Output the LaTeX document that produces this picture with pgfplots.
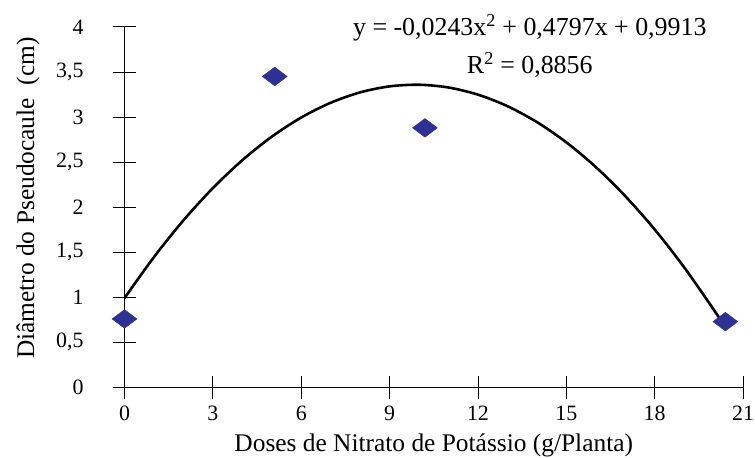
\documentclass[border=0pt]{standalone}
\usepackage{fontspec}
\setmainfont{Liberation Serif}
\usepackage{pgfplots}
\pgfplotsset{compat=1.18}
\definecolor{navy}{HTML}{2E3192}
\begin{document}
\fontsize{22}{26}\selectfont
\begin{tikzpicture}
\begin{axis}[
  scale only axis, width=621pt, height=362pt,
  xmin=0, xmax=21, ymin=0, ymax=4,
  axis lines*=left,
  axis line style={line width=0.8pt},
  tick style={line width=0.8pt, black},
  tick align=center, major tick length=24pt,
  xtick={0,3,...,21}, ytick={0,0.5,...,4},
  /pgf/number format/assume math mode=true,
  /pgf/number format/use comma,
  /pgf/number format/fixed,
  tick label style={font=\fontsize{22}{26}\selectfont, inner sep=1pt},
  yticklabel style={anchor=east, xshift=-28pt},
  xticklabel style={anchor=north, yshift=-5pt},
  xlabel={Doses de Nitrato de Potássio (g/Planta)},
  ylabel={Diâmetro do Pseudocaule\ \ (cm)},
  every axis x label/.style={at={(axis description cs:0.5,0)}, anchor=center, yshift=-58pt, inner sep=0pt, font=\fontsize{25.5}{30}\selectfont},
  every axis y label/.style={at={(axis description cs:-0.1562,0.525)}, anchor=center, rotate=90, font=\fontsize{25.5}{30}\selectfont},
  clip=false,
]
\addplot[black, line width=2.6pt, smooth] coordinates {
 (0,0.9913) (1,1.4467) (2,1.8535) (3,2.2117) (4,2.5213) (5,2.7823)
 (6,2.9947) (7,3.1585) (8,3.2737) (9,3.3403) (10,3.3583) (11,3.3277)
 (12,3.2485) (13,3.1207) (14,2.9443) (15,2.7193) (16,2.4457) (17,2.1235)
 (18,1.7527) (19,1.3333) (20,0.8653) (20.4,0.6645)
};
\addplot[only marks, mark=diamond*, mark size=12.5pt, mark options={rotate=90, fill=navy, draw=navy}] coordinates {
 (0,0.76) (5.1,3.45) (10.2,2.88) (20.4,0.73)
};
\node[anchor=center, font=\fontsize{26}{30}\selectfont] at (axis cs:13.76,3.99) {y = -0,0243x\textsuperscript{2} + 0,4797x + 0,9913};
\node[anchor=center, font=\fontsize{26}{30}\selectfont] at (axis cs:13.76,3.58) {R\textsuperscript{2} = 0,8856};
\end{axis}
\path (current axis.south west) ++(-125pt,-70pt) rectangle ++(755pt,459pt);
\end{tikzpicture}
\end{document}
